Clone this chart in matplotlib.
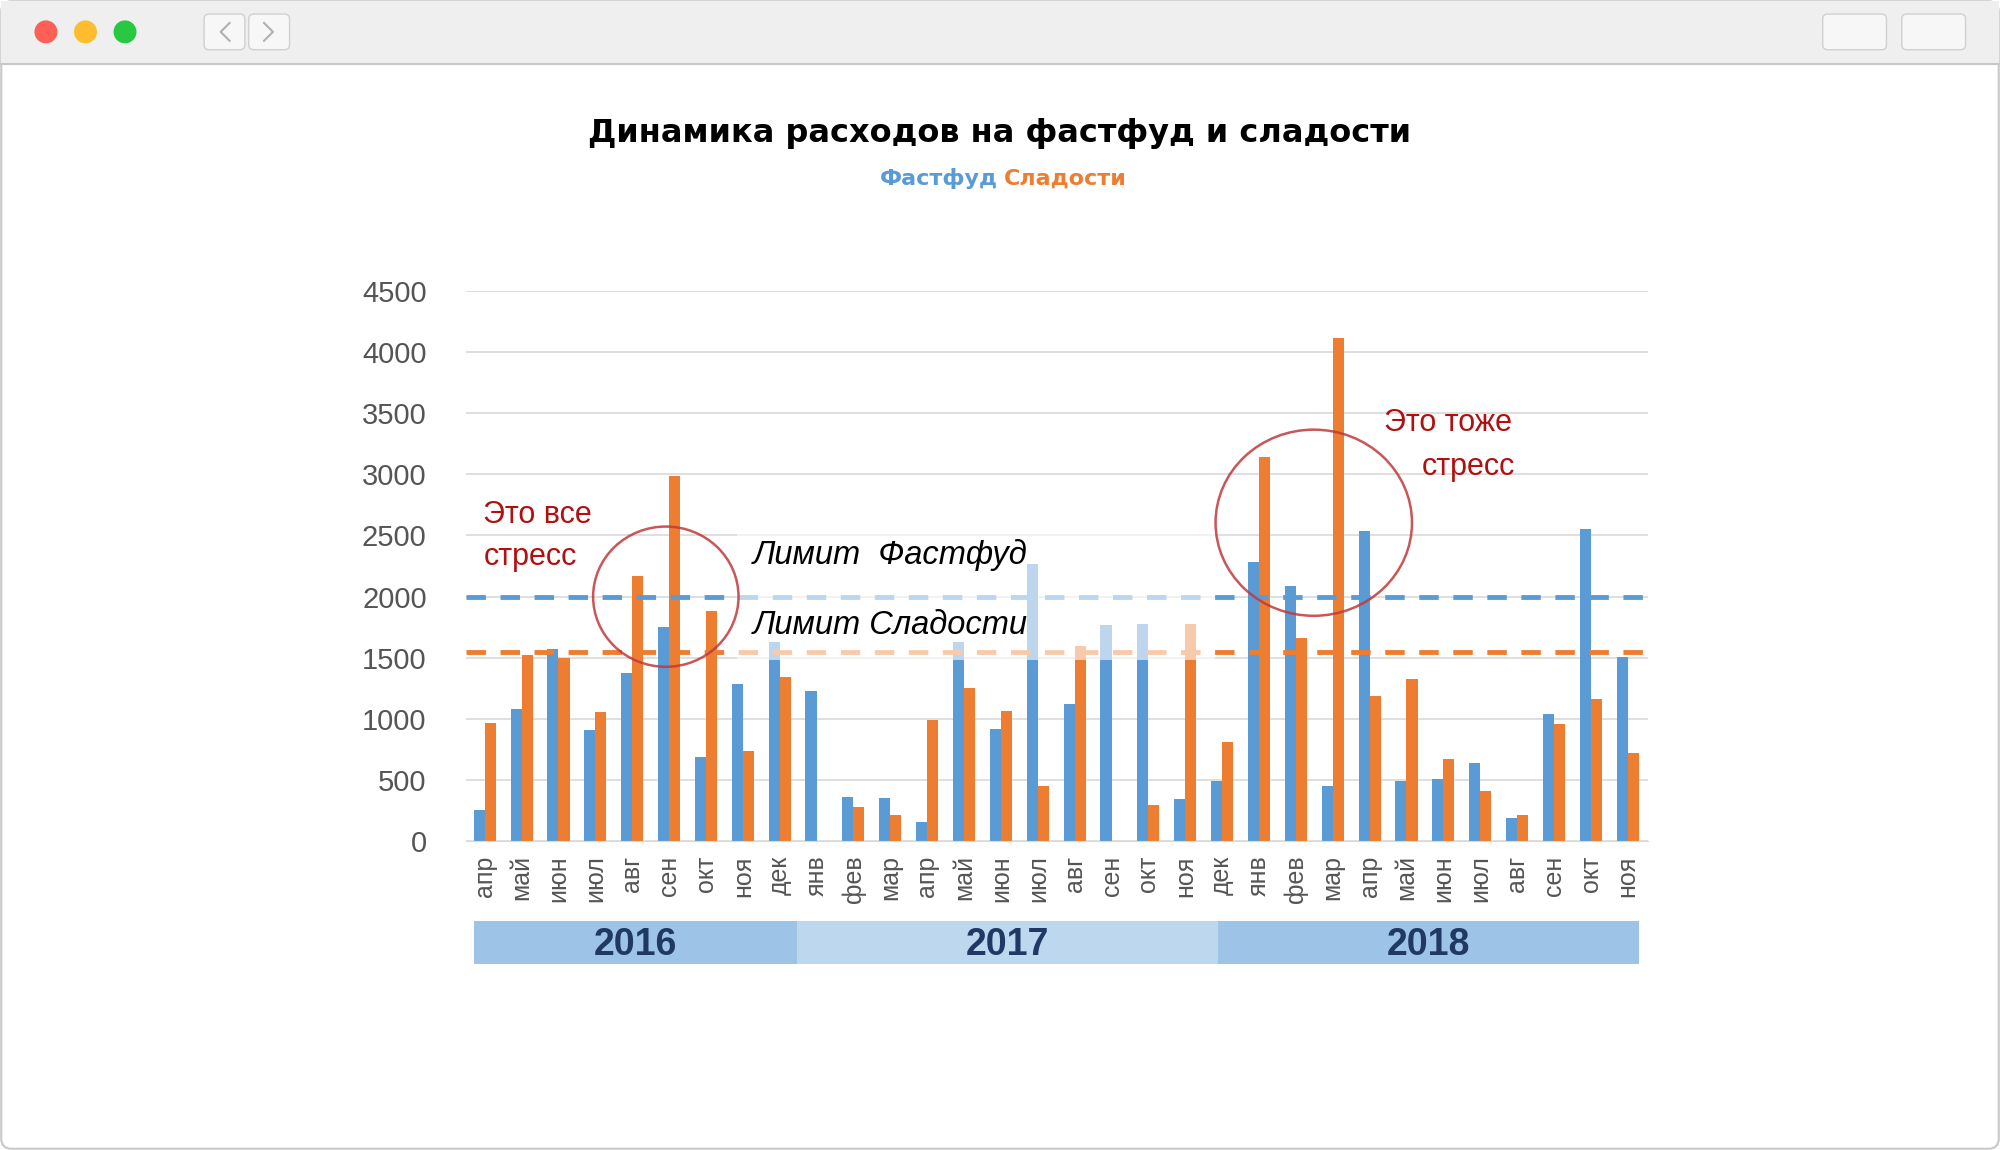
import matplotlib
matplotlib.use("Agg")
import matplotlib.pyplot as plt
from matplotlib.patches import Ellipse, Rectangle, FancyBboxPatch, Circle
import numpy as np

months = ["апр","май","июн","июл","авг","сен","окт","ноя","дек",
          "янв","фев","мар","апр","май","июн","июл","авг","сен","окт","ноя","дек",
          "янв","фев","мар","апр","май","июн","июл","авг","сен","окт","ноя"]
fastfood = [260,1080,1570,910,1380,1750,690,1290,1630,
            1230,365,355,155,1630,920,2270,1120,1770,1780,345,490,
            2280,2085,450,2540,490,510,640,190,1045,2555,1510]
sweets = [970,1520,1500,1060,2165,2990,1885,740,1340,
          0,280,220,990,1250,1070,450,1600,0,300,1780,810,
          3145,1665,4115,1190,1330,670,410,220,960,1160,720]
years = ["2016","2017","2018"]
limit_fast = 2000
limit_sweet = 1550
yticks = [0,500,1000,1500,2000,2500,3000,3500,4000,4500]

plt.rcParams["font.family"] = "Liberation Sans"
BLUE = "#5b9bd5"; ORANGE = "#ed7d31"; RED = "#b01010"
W, H = 1568, 902
fig = plt.figure(figsize=(20, 11.5), dpi=100)

bg = fig.add_axes([0, 0, 1, 1]); bg.set_xlim(0, W); bg.set_ylim(H, 0); bg.axis("off")
bg.add_patch(FancyBboxPatch((1, 1), W-2, H-2, boxstyle="round,pad=0,rounding_size=8",
                            fc="white", ec="#c8c8c8", lw=1.5))
bg.add_patch(Rectangle((1, 1), W-2, 49, fc="#efefef", ec="none"))
bg.plot([1, W-1], [50, 50], color="#c8c8c8", lw=1.5)
for cx, c in [(36, "#fe5f57"), (67, "#febc2e"), (98, "#28c840")]:
    bg.add_patch(Circle((cx, 25), 9, fc=c, ec="none"))
for x0 in [160, 195]:
    bg.add_patch(FancyBboxPatch((x0, 11), 32, 28, boxstyle="round,pad=0,rounding_size=4",
                                fc="#f7f7f7", ec="#d0d0d0", lw=1))
bg.plot([180, 173, 180], [18, 25, 32], color="#b0b0b0", lw=1.5)
bg.plot([207, 214, 207], [18, 25, 32], color="#b0b0b0", lw=1.5)
for x0 in [1429, 1491]:
    bg.add_patch(FancyBboxPatch((x0, 11), 50, 28, boxstyle="round,pad=0,rounding_size=4",
                                fc="#f7f7f7", ec="#d0d0d0", lw=1))

bg.text(784, 105, "Динамика расходов на фастфуд и сладости", ha="center", va="center",
        fontsize=23, fontweight="bold", color="black", family="DejaVu Sans")
bg.text(782, 140, "Фастфуд", ha="right", va="center", fontsize=16, fontweight="bold", color=BLUE, family="DejaVu Sans")
bg.text(787, 140, "Сладости", ha="left", va="center", fontsize=16, fontweight="bold", color=ORANGE, family="DejaVu Sans")

ax = fig.add_axes([365/W, 1-660/H, (1292-365)/W, (660-228)/H])
ax.patch.set_alpha(0)
x = np.arange(len(months))
ax.bar(x-0.15, fastfood, width=0.3, color=BLUE, zorder=2)
ax.bar(x+0.15, sweets, width=0.3, color=ORANGE, zorder=2)
ax.set_xlim(-0.52, 31.55); ax.set_ylim(0, 4500)
ax.set_yticks(yticks)
ax.yaxis.grid(True, color="#d9d9d9", lw=1.2, zorder=0)
ax.set_axisbelow(True)
for s in ax.spines.values(): s.set_visible(False)
ax.spines["bottom"].set_visible(True); ax.spines["bottom"].set_color("#d9d9d9")
ax.tick_params(axis="y", length=0, labelsize=21, labelcolor="#555555", pad=28)
ax.set_xticks(x); ax.set_xticklabels(months, rotation=90, fontsize=18, color="#555555")
ax.tick_params(axis="x", length=0, pad=10)
ax.axhline(limit_fast, color=BLUE, lw=3.5, ls=(0, (4, 3)), zorder=3)
ax.axhline(limit_sweet, color=ORANGE, lw=3.5, ls=(0, (4, 3)), zorder=3)
ax.add_patch(Rectangle((6.85, 1480), 12.95, 1050, fc="white", ec="none", alpha=0.6, zorder=4))

edges = [372, 625, 955, 1285]
cols = ["#9dc3e6", "#bdd7ee", "#9dc3e6"]
for i, (yname, c) in enumerate(zip(years, cols)):
    bg.add_patch(Rectangle((edges[i], 722), edges[i+1]-edges[i], 34, fc=c, ec="none"))
    bg.text((edges[i]+edges[i+1])/2, 741, yname, ha="center", va="center", fontsize=27,
            fontweight="bold", color="#1f3864")

ov = fig.add_axes([0, 0, 1, 1]); ov.set_xlim(0, W); ov.set_ylim(H, 0); ov.axis("off")
ov.text(590, 435, "Лимит  Фастфуд", ha="left", va="center", fontsize=23.5, style="italic", color="black")
ov.text(590, 491, "Лимит Сладости", ha="left", va="center", fontsize=23.5, style="italic", color="black")
ov.text(379, 404, "Это все", ha="left", va="center", fontsize=22, color=RED)
ov.text(379, 437, "стресс", ha="left", va="center", fontsize=22, color=RED)
ov.text(1085, 332, "Это тоже", ha="left", va="center", fontsize=22, color=RED)
ov.text(1115, 366, "стресс", ha="left", va="center", fontsize=22, color=RED)
ov.add_patch(Ellipse((522, 468), 114, 110, fc="none", ec="#c0393b", lw=1.8, alpha=0.85))
ov.add_patch(Ellipse((1030, 410), 154, 146, fc="none", ec="#c0393b", lw=1.8, alpha=0.85))

fig.savefig("out.png", dpi=100)
